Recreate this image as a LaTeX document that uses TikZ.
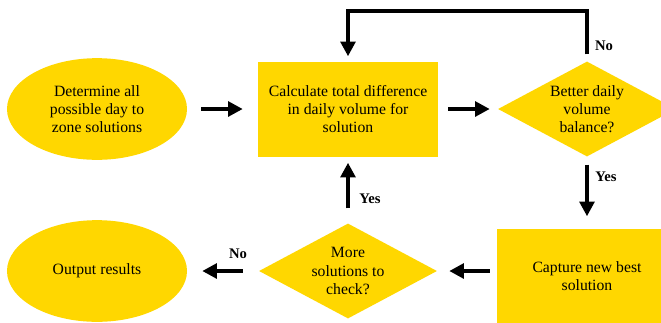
\documentclass[tikz,border=0pt]{standalone}
\usepackage{fontspec}
\setmainfont{Liberation Serif}
\usetikzlibrary{arrows.meta,shapes.geometric}
\definecolor{flowyellow}{HTML}{FFD700}

\begin{document}
\begin{tikzpicture}[
    x=0.03cm, y=-0.03cm,
    term/.style={ellipse, fill=flowyellow, minimum width=5.4cm, minimum height=3.05cm, inner sep=0pt, align=center, font=\fontsize{13.4}{15.4}\selectfont},
    proc/.style={rectangle, fill=flowyellow, minimum width=5.4cm, minimum height=2.85cm, inner sep=0pt, align=center, font=\fontsize{13.4}{15.4}\selectfont},
    dec/.style={diamond, aspect=1.87, fill=flowyellow, minimum width=5.34cm, minimum height=2.85cm, inner sep=0pt, align=center, font=\fontsize{13.4}{15.4}\selectfont},
    arr/.style={-{Triangle[length=4.4mm, width=4.4mm]}, line width=3.5pt},
    lbl/.style={font=\bfseries\fontsize{12.5}{14}\selectfont}
]
    \useasboundingbox (0,0) rectangle (661,322);
    \node[term] (det) at (97,109) {Determine all\\possible day to\\zone solutions};
    \node[proc] (calc) at (348,109) {Calculate total difference\\in daily volume for\\solution};
    \node[dec] (better) at (587,109) {Better daily\\volume\\balance?};
    \node[proc] (capture) at (587,276) {Capture new best\\solution};
    \node[dec] (more) at (348,271) {More\\solutions to\\check?};
    \node[term] (out) at (97,271) {Output results};
    \coordinate (loopTop) at (348,11);

    \draw[arr, shorten <=0.42cm, shorten >=0.45cm] (det) -- (calc);
    \draw[arr, shorten <=0.3cm, shorten >=0.24cm] (calc) -- (better);
    \draw[arr, shorten <=0.21cm, shorten >=0.15cm] (better.north) |- (loopTop) -- (calc.north);
    \draw[arr, shorten <=0.24cm, shorten >=0.36cm] (better) -- (capture);
    \draw[arr, shorten <=0.21cm, shorten >=0.36cm] (capture.west |- more.east) -- (more.east);
    \draw[arr, shorten <=0.45cm, shorten >=0.18cm] (more) -- (calc);
    \draw[arr, shorten <=0.48cm, shorten >=0.45cm] (more) -- (out);

    \node[lbl] (noLoop) at (604,46) {No};
    \node[lbl] (yesDown) at (606,177) {Yes};
    \node[lbl] (yesUp) at (370,199) {Yes};
    \node[lbl] (noEnd) at (238,254) {No};
\end{tikzpicture}
\end{document}
